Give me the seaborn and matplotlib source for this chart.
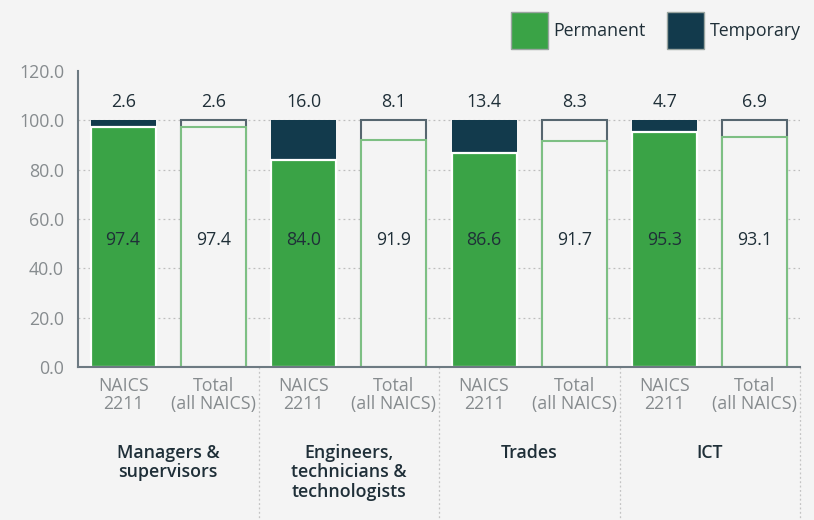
import pandas as pd
import matplotlib.pyplot as plt
import matplotlib.ticker as mticker
from matplotlib.patches import Patch
import seaborn as sns

# data
groups = ["Managers &\nsupervisors", "Engineers,\ntechnicians &\ntechnologists", "Trades", "ICT"]
naics_perm = [97.4, 84.0, 86.6, 95.3]
naics_temp = [2.6, 16.0, 13.4, 4.7]
total_perm = [97.4, 91.9, 91.7, 93.1]
total_temp = [2.6, 8.1, 8.3, 6.9]
bar_labels = ["NAICS\n2211", "Total\n(all NAICS)"]
yticks = [0, 20, 40, 60, 80, 100, 120]

BG = "#f4f4f4"
GREEN = "#3aa346"
DARK = "#123a4c"
TXT = "#1f2f38"
GREY = "#868b8e"
FS = 12.8

rows = []
for i, g in enumerate(groups):
    rows.append(dict(bar=f"n{i}", kind="naics", perm=naics_perm[i], temp=naics_temp[i]))
    rows.append(dict(bar=f"t{i}", kind="total", perm=total_perm[i], temp=total_temp[i]))
df = pd.DataFrame(rows)
df["sum"] = df["perm"] + df["temp"]
order = list(df["bar"])
dn = df[df.kind == "naics"]
dt = df[df.kind == "total"]

sns.set_style("white")
plt.rcParams["font.family"] = ["Open Sans", "DejaVu Sans"]

fig = plt.figure(figsize=(8.14, 5.2), dpi=100, facecolor=BG)
ax = fig.add_axes([78 / 814, (520 - 367) / 520, 722 / 814, 296 / 520])
ax.set_facecolor(BG)

# dotted grid lines behind the bars (none at 0 and at the top)
for v in yticks[1:-1]:
    ax.axhline(v, color="#bdbdbd", linestyle=(0, (1.5, 2.5)), linewidth=0.9, zorder=0)

kw = dict(x="bar", order=order, width=0.72, ax=ax, errorbar=None)
# NAICS 2211: filled stacks
sns.barplot(data=dn, y="sum", color=DARK, saturation=1, edgecolor=DARK, linewidth=0, **kw)
sns.barplot(data=dn, y="perm", color=GREEN, saturation=1, edgecolor="white", linewidth=1.6, **kw)
# Total: hollow stacks
sns.barplot(data=dt, y="sum", color=BG, saturation=1, edgecolor="#56666f", linewidth=1.5, **kw)
sns.barplot(data=dt, y="perm", color=BG, saturation=1, edgecolor="#7dbf83", linewidth=1.5, **kw)

# value labels
for i, r in df.reset_index(drop=True).iterrows():
    ax.text(i, 107.5, f"{r['temp']:.1f}", ha="center", va="center", fontsize=FS, color=TXT)
    ax.text(i, 51.5, f"{r['perm']:.1f}", ha="center", va="center", fontsize=FS, color=TXT)

ax.set_xlim(-0.5, 7.5)
ax.set_ylim(0, 120)
ax.set_yticks(yticks)
ax.yaxis.set_major_formatter(mticker.FormatStrFormatter("%.1f"))
ax.set_xticks(range(len(order)))
ax.set_xticklabels(bar_labels * len(groups), linespacing=1.05)
ax.tick_params(axis="both", length=0, labelsize=FS, labelcolor=GREY)
ax.tick_params(axis="x", pad=7)
ax.tick_params(axis="y", pad=10)
ax.set_xlabel("")
ax.set_ylabel("")

for s in ["top", "right"]:
    ax.spines[s].set_visible(False)
for s in ["left", "bottom"]:
    ax.spines[s].set_color("#6d7a82")
    ax.spines[s].set_linewidth(1.5)

# group labels and dotted dividers
trans = ax.get_xaxis_transform()
for i, g in enumerate(groups):
    ax.text(2 * i + 0.5, -0.26, g, transform=trans, ha="center", va="top",
            fontsize=FS, fontweight="semibold", color=TXT, linespacing=1.1)
    ax.plot([2 * i + 1.5] * 2, [0, -0.52], transform=trans, clip_on=False,
            color="#c4c4c4", linestyle=(0, (1.5, 2)), linewidth=0.9)

handles = [Patch(facecolor=GREEN, edgecolor="#9aa5a0", label="Permanent"),
           Patch(facecolor=DARK, edgecolor="#9aa5a0", label="Temporary")]
fig.legend(handles=handles, loc="upper right", bbox_to_anchor=(0.999, 1.0), ncol=2,
           frameon=False, fontsize=FS, handlelength=2.1, handleheight=2.8,
           handletextpad=0.3, columnspacing=1.2, labelcolor=TXT, borderaxespad=0.3)

fig.savefig("out.png", dpi=100, facecolor=BG)
